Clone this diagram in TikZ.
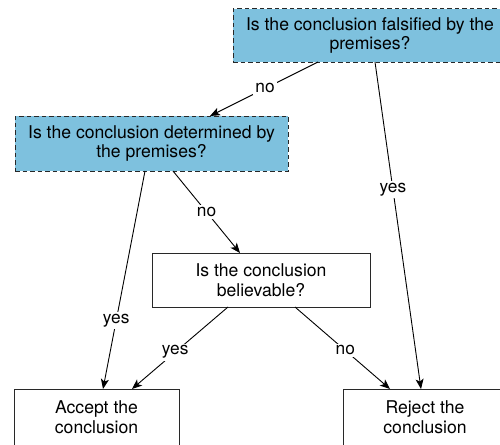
\documentclass[tikz,border=0pt]{standalone}
\usepackage{fontspec}
\setmainfont{TeX Gyre Heros}
\usetikzlibrary{arrows.meta}
\definecolor{qblue}{RGB}{126,193,222}
\definecolor{edgegray}{RGB}{40,40,40}
\begin{document}
\begin{tikzpicture}[x=1pt,y=-1pt,
  box/.style={draw=edgegray, line width=1pt, align=center, inner sep=0pt, outer sep=0pt,
    font=\fontsize{17.6}{19.5}\selectfont},
  qbox/.style={box, fill=qblue, dash pattern=on 4.5pt off 3pt},
  lbl/.style={fill=white, inner sep=2pt, font=\fontsize{17.3}{19}\selectfont},
  conn/.style={-{Stealth[length=10pt,width=8pt,inset=2.5pt]}, line width=0.9pt, draw=black}]
\useasboundingbox (0,0) rectangle (500,444);
\clip (0,0) rectangle (500,444);
\fill[white] (0,0) rectangle (500,444);
\node[qbox, minimum width=274pt, minimum height=53pt] (A) at (370,35.5) {Is the conclusion falsified by the\\premises?};
\node[qbox, minimum width=273pt, minimum height=55pt] (B) at (151.5,143.5) {Is the conclusion determined by\\the premises?};
\node[box, minimum width=218pt, minimum height=54pt] (C) at (261,280) {Is the conclusion\\believable?};
\node[box, minimum width=165pt, minimum height=56pt] (D) at (96.5,417) {Accept the\\conclusion};
\node[box, minimum width=164pt, minimum height=56pt] (E) at (425,417) {Reject the\\conclusion};
\draw[conn] ([xshift=85pt]A.south west) -- node[lbl, pos=0.49]{no} ([xshift=195pt]B.north west);
\draw[conn] ([xshift=142pt]A.south west) -- node[lbl, pos=0.39]{yes} ([xshift=78pt]E.north west);
\draw[conn] ([xshift=130pt]B.south west) -- node[lbl, pos=0.685]{yes} ([xshift=89pt]D.north west);
\draw[conn] ([xshift=158pt]B.south west) -- node[lbl, pos=0.5]{no} ([xshift=88pt]C.north west);
\draw[conn] ([xshift=76pt]C.south west) -- node[lbl, pos=0.55]{yes} ([xshift=118pt]D.north west);
\draw[conn] ([xshift=143pt]C.south west) -- node[lbl, pos=0.53]{no} ([xshift=47pt]E.north west);
\end{tikzpicture}
\end{document}
